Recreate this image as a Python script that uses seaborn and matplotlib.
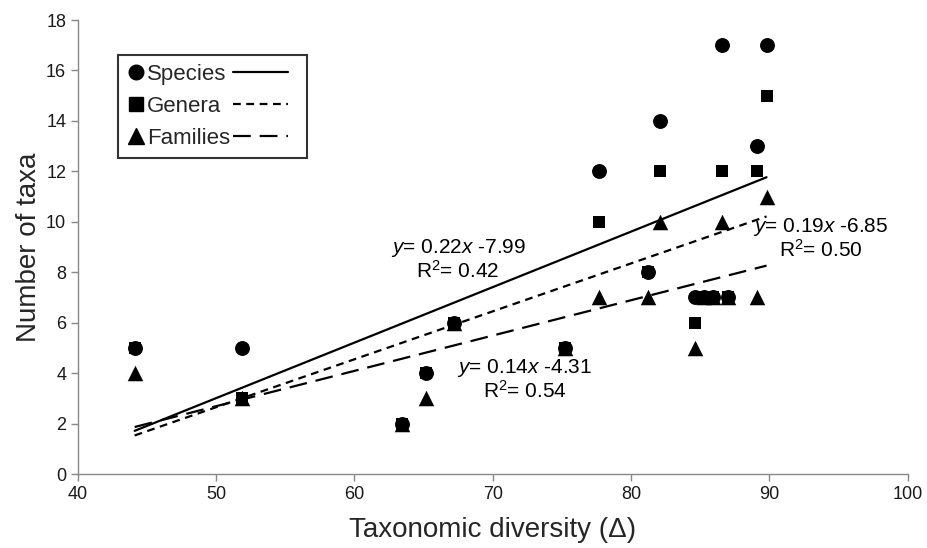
import numpy as np
import pandas as pd
import matplotlib
matplotlib.use('Agg')
import matplotlib.pyplot as plt
import seaborn as sns
from matplotlib.lines import Line2D
from matplotlib.legend_handler import HandlerLine2D

# one entry per site: taxonomic diversity and number of taxa at each level
site_delta = [44.1, 51.9, 63.4, 65.2, 67.2, 75.2, 77.7, 81.2, 82.1, 84.6, 85.3, 85.9, 86.6, 87.0, 89.1, 89.8]
species = [5, 5, 2, 4, 6, 5, 12, 8, 14, 7, 7, 7, 17, 7, 13, 17]
genera = [5, 3, 2, 4, 6, 5, 10, 8, 12, 6, 7, 7, 12, 7, 12, 15]
families = [4, 3, 2, 3, 6, 5, 7, 7, 10, 5, 7, 7, 10, 7, 7, 11]

levels = ['Species', 'Genera', 'Families']
slopes = [0.22, 0.19, 0.14]
intercepts = [-7.99, -6.85, -4.31]
r2_values = [0.42, 0.50, 0.54]

df = pd.DataFrame({'delta': site_delta, 'Species': species, 'Genera': genera, 'Families': families})

sns.set_style("ticks")
plt.rcParams['font.family'] = ['Liberation Sans', 'DejaVu Sans']
plt.rcParams['mathtext.fontset'] = 'custom'
plt.rcParams['mathtext.rm'] = 'Liberation Sans'
plt.rcParams['mathtext.it'] = 'Liberation Sans:italic'

fig = plt.figure(figsize=(9.28, 5.48), dpi=100)
ax = fig.add_axes([0.084, 0.135, 0.894, 0.8285])

markers = {'Species': 'o', 'Genera': 's', 'Families': '^'}
sizes = {'Species': 115, 'Genera': 78, 'Families': 125}
zorders = {'Species': 4, 'Genera': 3, 'Families': 2}
dashes = {'Species': '-', 'Genera': (0, (3.5, 2.5)), 'Families': (0, (8, 4))}

for lvl in levels:
    sns.scatterplot(data=df, x='delta', y=lvl, marker=markers[lvl], s=sizes[lvl],
                    color='black', edgecolor='black', linewidth=0, ax=ax, zorder=zorders[lvl])

# fitted trend lines from the reported equations
xs = np.array([df['delta'].min(), df['delta'].max()])
for lvl, m, b in zip(levels, slopes, intercepts):
    ax.plot(xs, m * xs + b, color='black', lw=1.6, linestyle=dashes[lvl], zorder=5)

def eq_text(m, b, r2):
    return f"$\\it{{y}}$= {m:.2f}$\\it{{x}}$ {b:.2f}\nR$^2$= {r2:.2f}"

label_pos = {'Species': (67.5, 8.5), 'Genera': (93.7, 9.35), 'Families': (72.3, 3.75)}
for lvl, m, b, r2 in zip(levels, slopes, intercepts, r2_values):
    ax.text(*label_pos[lvl], eq_text(m, b, r2), ha='center', va='center',
            multialignment='center', fontsize=15, color='black', linespacing=1.05, zorder=6)

ax.set_xlim(40, 100)
ax.set_ylim(0, 18)
ax.set_xticks(range(40, 101, 10))
ax.set_yticks(range(0, 19, 2))
ax.tick_params(axis='both', labelsize=13, colors='#888888', labelcolor='#1a1a1a', length=5, width=1)
for side in ['top', 'right']:
    ax.spines[side].set_visible(False)
for side in ['left', 'bottom']:
    ax.spines[side].set_color('#888888')
    ax.spines[side].set_linewidth(1)

ax.set_xlabel('Taxonomic diversity (Δ)', fontsize=20, labelpad=10)
ax.set_ylabel('Number of taxa', fontsize=20, labelpad=3)


class LongLine(HandlerLine2D):
    def create_artists(self, legend, orig_handle, xdescent, ydescent, width, height, fontsize, trans):
        return super().create_artists(legend, orig_handle, xdescent, ydescent,
                                      width * 3.1, height, fontsize, trans)


mark_handles = [Line2D([], [], marker=markers[l], color='black', linestyle='None',
                       markersize=10.5 if l != 'Families' else 11.5) for l in levels]
line_handles = [Line2D([], [], color='black', lw=1.6, linestyle=dashes[l]) for l in levels]
handler_map = {h: LongLine() for h in line_handles}
leg = ax.legend(mark_handles + line_handles, levels + ['\u2002' * 4] * 3, ncol=2,
                loc='upper left', bbox_to_anchor=(0.048, 0.923), borderaxespad=0, fontsize=16,
                handlelength=0.8, handletextpad=0.1, columnspacing=0.15,
                labelspacing=0.5, borderpad=0.4, frameon=True, fancybox=False,
                handler_map=handler_map)
leg.get_frame().set_edgecolor('black')
leg.get_frame().set_linewidth(1.5)
leg.set_zorder(10)

fig.savefig('out.png', dpi=100)
